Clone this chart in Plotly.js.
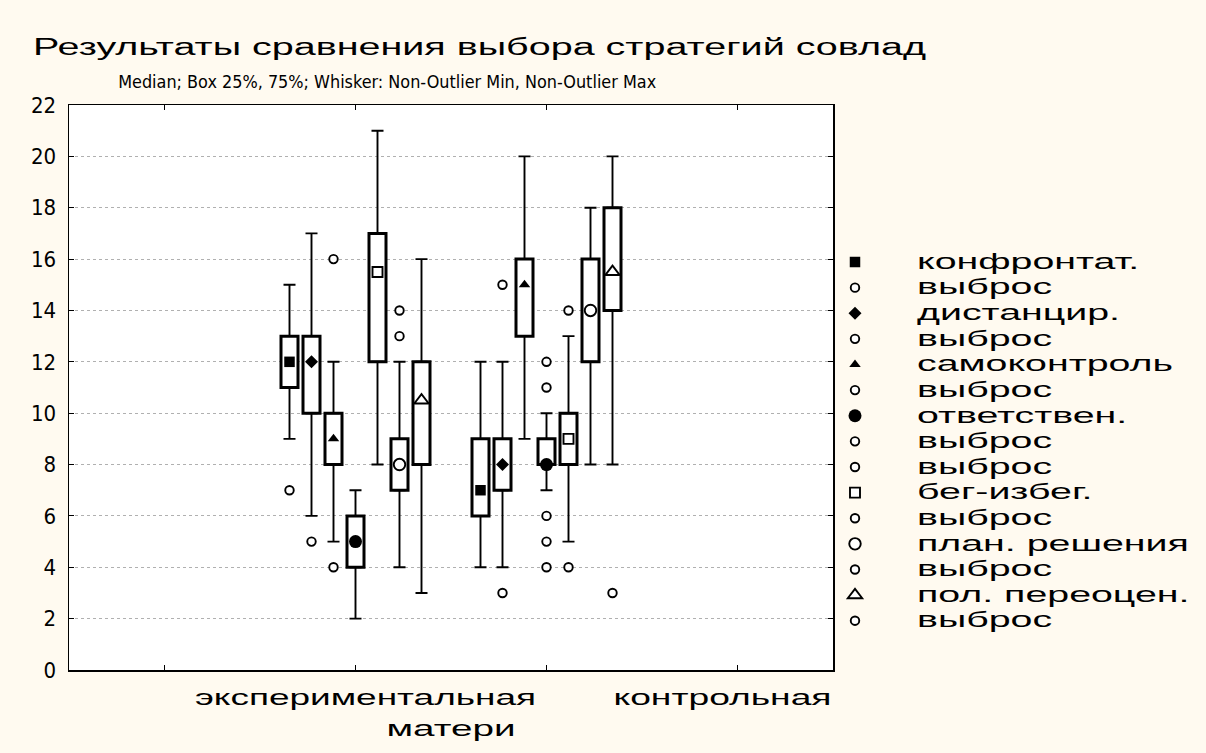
<!DOCTYPE html>
<html>
<head>
<meta charset="utf-8">
<script src="https://cdn.plot.ly/plotly-3.0.1.min.js"></script>
<style>
html, body { margin: 0; padding: 0; background: #fffaf0; }
#chart { width: 1206px; height: 753px; }
</style>
</head>
<body>
<div id="chart"></div>
<script>
// ---------- data ----------
const titleText = 'Результаты сравнения выбора стратегий совлад';
const subtitleText = 'Median; Box 25%, 75%; Whisker: Non-Outlier Min, Non-Outlier Max';
const xAxisTitle = 'матери';
const groups = ['экспериментальная', 'контрольная'];
const groupPos = [1, 2];
const xTickVals = [0, 1, 2, 3];
const yTickVals = [0, 2, 4, 6, 8, 10, 12, 14, 16, 18, 20, 22];
const series = ['конфронтат.', 'дистанцир.', 'самоконтроль', 'ответствен.', 'бег-избег.', 'план. решения', 'пол. переоцен.'];
const outlierName = 'выброс';
// values per series: [экспериментальная, контрольная]
const medians     = [[12, 7], [12, 8], [9, 15], [5, 8], [15.5, 9], [8, 14], [10.5, 15.5]];
const boxQ1       = [[11, 6], [10, 7], [8, 13], [4, 8], [12, 8], [7, 12], [8, 14]];
const boxQ3       = [[13, 9], [13, 9], [10, 16], [6, 9], [17, 10], [9, 16], [12, 18]];
const whiskerLow  = [[9, 4], [6, 4], [5, 9], [2, 7], [8, 5], [4, 8], [3, 8]];
const whiskerHigh = [[15, 12], [17, 12], [12, 20], [7, 10], [21, 13], [12, 18], [16, 20]];
const outliers = [
  [[7], []],
  [[5], [15, 3]],
  [[16, 4], []],
  [[], [11, 6]],
  [[], [14, 4]],
  [[14, 13], []],
  [[], [3]]
];
const extremes = [
  [[], []], [[], []], [[], []],
  [[], [12, 5, 4]],
  [[], []], [[], []], [[], []]
];

// ---------- styles / layout constants ----------
const symbols = ['square', 'diamond', 'triangle-up', 'circle', 'square', 'circle', 'triangle-up'];
const filled  = [true, true, true, true, false, false, false];
const msizes  = [10.5, 10, 10, 13, 10, 11.5, 12.5];
const SLOT = 22 / 191;   // spacing between neighbouring boxes (x units)
const BOXW = 17 / 191;   // box width (x units)
const SANS = 'Liberation Sans, Arial, sans-serif';
const NARROW = '"Liberation Sans Narrow", "Arial Narrow", "DejaVu Sans Condensed", sans-serif';

const nS = series.length;
const xAt = (s, g) => groupPos[g] + (s - (nS - 1) / 2) * SLOT;
const zeros = groupPos.map(() => 0);

const traces = [];
series.forEach((name, s) => {
  const xs = groupPos.map((_, g) => xAt(s, g));
  // box body
  traces.push({
    type: 'bar', x: xs, base: boxQ1[s],
    y: boxQ3[s].map((v, g) => v - boxQ1[s][g]),
    width: BOXW,
    marker: { color: '#ffffff', line: { color: '#000000', width: 3 } },
    showlegend: false, hoverinfo: 'skip'
  });
  // upper whisker
  traces.push({
    type: 'scatter', mode: 'markers', x: xs, y: boxQ3[s],
    marker: { size: 0, color: 'rgba(0,0,0,0)' },
    error_y: { type: 'data', symmetric: false,
      array: whiskerHigh[s].map((v, g) => v - boxQ3[s][g]), arrayminus: zeros,
      color: '#000', thickness: 1.9, width: 6 },
    showlegend: false, hoverinfo: 'skip'
  });
  // lower whisker
  traces.push({
    type: 'scatter', mode: 'markers', x: xs, y: boxQ1[s],
    marker: { size: 0, color: 'rgba(0,0,0,0)' },
    error_y: { type: 'data', symmetric: false,
      array: zeros, arrayminus: boxQ1[s].map((v, g) => v - whiskerLow[s][g]),
      color: '#000', thickness: 1.9, width: 6 },
    showlegend: false, hoverinfo: 'skip'
  });
  // median marker
  traces.push({
    type: 'scatter', mode: 'markers', name: name, x: xs, y: medians[s],
    marker: { symbol: symbols[s], size: msizes[s],
      color: filled[s] ? '#000' : '#fff',
      line: { color: '#000', width: filled[s] ? 0 : 1.9 } }
  });
  // outliers (and extremes if any)
  [outliers[s], extremes[s]].forEach((set, idx) => {
    const ys = set.flat();
    if (idx === 1 && ys.length === 0) return;
    traces.push({
      type: 'scatter', mode: 'markers', name: outlierName,
      x: set.flatMap((arr, g) => arr.map(() => xs[g])), y: ys,
      marker: { symbol: 'circle', size: 8.5, color: '#fff', line: { color: '#000', width: 1.9 } }
    });
  });
});

const layout = {
  width: 1206, height: 753,
  margin: { l: 69, r: 373, t: 105, b: 83 },
  paper_bgcolor: '#fffaf0', plot_bgcolor: '#ffffff',
  showlegend: true,
  barmode: 'overlay',
  font: { family: SANS, color: '#000' },
  title: { text: titleText, x: 33 / 1206, xanchor: 'left', xref: 'container',
    y: 1 - 47 / 753, yanchor: 'middle', yref: 'container',
    font: { family: SANS, size: 23, color: '#000' } },
  xaxis: {
    range: [-0.5, 3.5], tickvals: xTickVals, showticklabels: false,
    ticks: 'inside', ticklen: 5, tickwidth: 1, tickcolor: '#000',
    showline: true, linecolor: '#000', linewidth: 1.5, mirror: 'ticks',
    showgrid: false, zeroline: false,
    title: { text: xAxisTitle, standoff: 50, font: { family: SANS, size: 22, color: '#000' } }
  },
  yaxis: {
    range: [0, 22], tickvals: yTickVals,
    ticks: 'inside', ticklen: 5, tickwidth: 1, tickcolor: '#000',
    showline: true, linecolor: '#000', linewidth: 1.5, mirror: 'ticks',
    showgrid: true, gridcolor: '#b0b0b0', gridwidth: 1, griddash: 'dot',
    zeroline: false, ticklabelstandoff: 7,
    tickfont: { family: NARROW, size: 22, color: '#000' }
  },
  legend: {
    x: (793 - 69) / 764, xanchor: 'left', y: (670 - 244.2) / 565, yanchor: 'top',
    bgcolor: 'rgba(0,0,0,0)', borderwidth: 0, itemwidth: 114, tracegroupgap: 0,
    font: { family: SANS, size: 17.4, color: '#000' }
  },
  annotations: [
    { text: subtitleText, xref: 'paper', yref: 'paper', x: (387 - 69) / 764, y: (670 - 82) / 565,
      xanchor: 'center', yanchor: 'middle', showarrow: false,
      font: { family: NARROW, size: 17, color: '#000' } },
    { text: groups[0], xref: 'paper', yref: 'paper', x: (365 - 69) / 764, y: (670 - 697) / 565,
      xanchor: 'center', yanchor: 'middle', showarrow: false,
      font: { family: SANS, size: 22, color: '#000' } },
    { text: groups[1], xref: 'paper', yref: 'paper', x: (722 - 69) / 764, y: (670 - 697) / 565,
      xanchor: 'center', yanchor: 'middle', showarrow: false,
      font: { family: SANS, size: 22, color: '#000' } }
  ]
};

const gd = document.getElementById('chart');
Plotly.newPlot(gd, traces, layout, { staticPlot: true, displayModeBar: false, responsive: false }).then(() => {
  const fit = (el, w) => {
    if (!el) return;
    el.setAttribute('textLength', w);
    el.setAttribute('lengthAdjust', 'spacingAndGlyphs');
  };
  fit(gd.querySelector('.gtitle'), 893);
  const ann = gd.querySelectorAll('.annotation-text');
  fit(ann[0], 538);
  fit(ann[1], 341);
  fit(ann[2], 218);
  fit(gd.querySelector('.xtitle'), 129);
  const legTexts = Array.from(gd.querySelectorAll('.legendtext'));
  legTexts.forEach(t => { t.style.fontSize = '22px'; });
  const widths = legTexts.map(t => t.getComputedTextLength());
  const refIdx = legTexts.findIndex(t => t.textContent === 'самоконтроль');
  const k = refIdx >= 0 ? 256 / widths[refIdx] : 1;
  legTexts.forEach((t, i) => fit(t, widths[i] * k));
  gd.querySelectorAll('.legend [clip-path]').forEach(e => e.removeAttribute('clip-path'));
});
</script>
</body>
</html>
